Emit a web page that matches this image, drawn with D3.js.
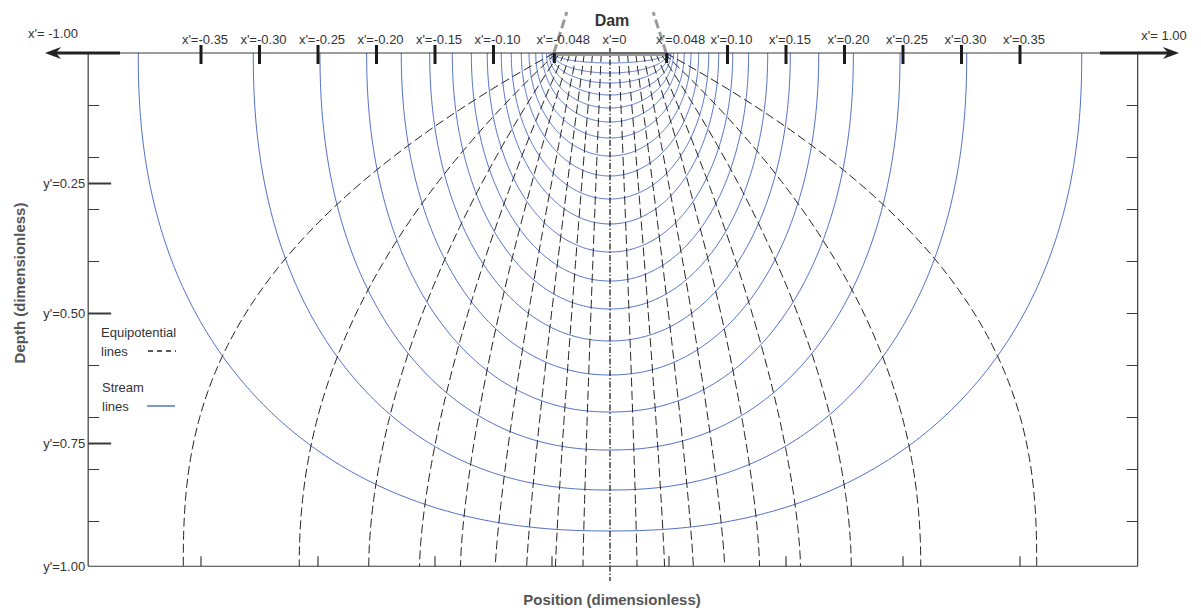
<!DOCTYPE html>
<html>
<head>
<meta charset="utf-8">
<script src="https://cdn.jsdelivr.net/npm/d3@7"></script>
<style>
  body { margin: 0; background: #fff; }
  svg { display: block; font-family: "Liberation Sans", Arial, sans-serif; }
</style>
</head>
<body>
<svg id="chart" width="1201" height="610"></svg>
<script>
// top axis ticks (x' position) and their labels
const topTicks = [-0.35, -0.30, -0.25, -0.20, -0.15, -0.10, -0.048, 0, 0.048, 0.10, 0.15, 0.20, 0.25, 0.30, 0.35];
const topTickLabels = ["x'=-0.35", "x'=-0.30", "x'=-0.25", "x'=-0.20", "x'=-0.15", "x'=-0.10", "x'=-0.048",
                       "x'=0", "x'=0.048", "x'=0.10", "x'=0.15", "x'=0.20", "x'=0.25", "x'=0.30", "x'=0.35"];
const bottomTicks = [-0.35, -0.25, -0.15, -0.05, 0.05, 0.15, 0.25, 0.35];

const aquiferBottom = 0.987;   // impermeable base (labelled y'=1.00)
const depthMajor = [0.25, 0.50, 0.75, aquiferBottom];
const depthMajorLabels = ["y'=0.25", "y'=0.50", "y'=0.75", "y'=1.00"];
const depthMinor = [0.1, 0.2, 0.3, 0.4, 0.5, 0.6, 0.7, 0.8, 0.9];

const damHalfWidth = 0.048;

// stream lines: half-width at the surface and depth below the dam centre
const streamHalfWidth = [0.0485, 0.0492, 0.0504, 0.0521, 0.0543, 0.0579, 0.0635, 0.0692, 0.0758, 0.0844,
                         0.0929, 0.1049, 0.1185, 0.1348, 0.1541, 0.1784, 0.2080, 0.2479, 0.3049, 0.4032];
const streamDepth     = [0.0192, 0.0385, 0.0577, 0.0808, 0.1058, 0.1327, 0.1635, 0.1981, 0.2365, 0.2808,
                         0.3288, 0.3827, 0.4385, 0.4923, 0.5538, 0.6192, 0.6904, 0.7635, 0.8404, 0.9192];

// equipotential lines (one side, mirrored): x' at the dam base, at mid depth, at the bottom
const equiTop    = [0.0075, 0.0149, 0.0219, 0.0284, 0.0341, 0.0390, 0.0430, 0.0458, 0.0476];
const equiMid    = [0.0162, 0.0325, 0.0496, 0.0692, 0.0940, 0.1205, 0.1590, 0.2154, 0.3094];
const equiBottom = [0.0231, 0.0466, 0.0712, 0.0980, 0.1278, 0.1628, 0.2062, 0.2656, 0.3647];

const svg = d3.select("#chart");
const x = d3.scaleLinear().domain([-0.5, 0.5]).range([25, 1195]);
const y = d3.scaleLinear().domain([0, 1]).range([53, 573]);

const frameL = -0.446, frameR = 0.451;
const INK = "#3a3a3a";
const BLUE = "#3d5fbf";

const line = d3.line().x(d => x(d[0])).y(d => y(d[1]));

// Stream lines (slightly boxy half-ellipses)
const streamPts = (a, b) => {
    const n = 2 + 0.3 * b * b;
    return d3.range(0, 361).map(i => {
        const t = i * Math.PI / 360;
        const c = Math.cos(t), s = Math.sin(t);
        return [Math.sign(c) * a * Math.pow(Math.abs(c), 2 / n), b * Math.pow(s, 2 / n)];
    });
};
svg.append("g").selectAll("path")
    .data(d3.zip(streamHalfWidth, streamDepth)).enter().append("path")
    .attr("d", d => line(streamPts(d[0], d[1])))
    .attr("fill", "none").attr("stroke", BLUE).attr("stroke-width", 0.9);

// Equipotential lines
const equiPts = (x0, xm, xb) => {
    const p = -Math.log2(1 - (xm - x0) / (xb - x0));
    return d3.range(0, 101).map(i => {
        const w = i / 100;
        return [x0 + (xb - x0) * (1 - Math.pow(1 - w, p)), w * aquiferBottom];
    });
};
const equi = [];
equiTop.forEach((t, i) => {
    [-1, 1].forEach(sg => equi.push(equiPts(sg * t, sg * equiMid[i], sg * equiBottom[i])));
});
svg.append("g").selectAll("path")
    .data(equi).enter().append("path")
    .attr("d", line)
    .attr("fill", "none").attr("stroke", "#222").attr("stroke-width", 1)
    .attr("stroke-dasharray", "9,4");

// centre line
svg.append("line")
    .attr("x1", x(0)).attr("x2", x(0)).attr("y1", 48).attr("y2", 581)
    .attr("stroke", "#222").attr("stroke-width", 1.3).attr("stroke-dasharray", "6,2,1.5,2");

// Frame: left, right, bottom
svg.append("line").attr("x1", x(frameL)).attr("x2", x(frameL)).attr("y1", y(0)).attr("y2", y(aquiferBottom))
    .attr("stroke", INK).attr("stroke-width", 1.2);
svg.append("line").attr("x1", x(frameR)).attr("x2", x(frameR)).attr("y1", y(0)).attr("y2", y(aquiferBottom))
    .attr("stroke", INK).attr("stroke-width", 1.2);

// bottom axis
svg.append("g").attr("transform", `translate(0,${y(aquiferBottom)})`)
    .call(d3.axisTop(x).tickValues(bottomTicks).tickSize(10).tickFormat(""))
    .call(g => g.select(".domain").remove())
    .call(g => g.selectAll("line").attr("stroke", INK).attr("stroke-width", 1.2));
svg.append("line").attr("x1", x(frameL)).attr("x2", x(frameR))
    .attr("y1", y(aquiferBottom)).attr("y2", y(aquiferBottom))
    .attr("stroke", INK).attr("stroke-width", 1.2);

// left axis: minor + major ticks, labels
svg.append("g").attr("transform", `translate(${x(frameL)},0)`)
    .call(d3.axisRight(y).tickValues(depthMinor).tickSize(11).tickFormat(""))
    .call(g => g.select(".domain").remove())
    .call(g => g.selectAll("line").attr("stroke", INK).attr("stroke-width", 1));
svg.append("g").attr("transform", `translate(${x(frameL)},0)`)
    .call(d3.axisRight(y).tickValues(depthMajor.slice(0, 3)).tickSize(23).tickFormat(""))
    .call(g => g.select(".domain").remove())
    .call(g => g.selectAll("line").attr("stroke", INK).attr("stroke-width", 2));
svg.append("g").attr("transform", `translate(${x(frameL) - 3},0)`)
    .call(d3.axisLeft(y).tickValues(depthMajor).tickSize(0).tickPadding(0)
        .tickFormat((d, i) => depthMajorLabels[i]))
    .call(g => g.select(".domain").remove())
    .call(g => g.selectAll("text").attr("fill", "#333").attr("font-size", 13));

// right axis minor ticks
svg.append("g").attr("transform", `translate(${x(frameR)},0)`)
    .call(d3.axisLeft(y).tickValues(depthMinor).tickSize(11).tickFormat(""))
    .call(g => g.select(".domain").remove())
    .call(g => g.selectAll("line").attr("stroke", INK).attr("stroke-width", 1));

// Dam
const dam = svg.append("g");
dam.append("line").attr("x1", x(-damHalfWidth)).attr("x2", x(damHalfWidth))
    .attr("y1", y(0) + 1).attr("y2", y(0) + 1)
    .attr("stroke", "#9a9a9a").attr("stroke-width", 4);
[-1, 1].forEach(sg => {
    dam.append("line")
        .attr("x1", x(sg * damHalfWidth)).attr("y1", y(0))
        .attr("x2", x(sg * damHalfWidth) - sg * 13).attr("y2", 12)
        .attr("stroke", "#9a9a9a").attr("stroke-width", 3).attr("stroke-dasharray", "9,4");
});
svg.append("text").attr("x", x(0) + 2).attr("y", 26).attr("text-anchor", "middle")
    .attr("font-size", 16).attr("font-weight", "bold").attr("fill", "#333").text("Dam");

// Top axis line with arrows
svg.append("line").attr("x1", 118).attr("x2", 1102).attr("y1", y(0)).attr("y2", y(0))
    .attr("stroke", INK).attr("stroke-width", 1.2);
svg.append("line").attr("x1", 52).attr("x2", 120).attr("y1", y(0)).attr("y2", y(0))
    .attr("stroke", "#222").attr("stroke-width", 3);
svg.append("line").attr("x1", 1100).attr("x2", 1170).attr("y1", y(0)).attr("y2", y(0))
    .attr("stroke", "#222").attr("stroke-width", 3);
const yA = y(0);
svg.append("path").attr("d", `M45,${yA} L61,${yA - 6} L56,${yA} L61,${yA + 6} Z`).attr("fill", "#222");
svg.append("path").attr("d", `M1179,${yA} L1163,${yA - 6} L1168,${yA} L1163,${yA + 6} Z`).attr("fill", "#222");
svg.append("text").attr("x", 53).attr("y", 38).attr("text-anchor", "middle")
    .attr("font-size", 13).attr("fill", "#333").text("x'= -1.00");
svg.append("text").attr("x", 1164).attr("y", 40).attr("text-anchor", "middle")
    .attr("font-size", 13).attr("fill", "#333").text("x'= 1.00");

// top axis ticks and labels
const labelShift = d => d === 0.048 ? 14 : (d === -0.048 ? 9 : 4);
svg.append("g").attr("transform", `translate(0,${y(0)})`)
    .call(d3.axisTop(x).tickValues(topTicks).tickSize(8).tickPadding(1)
        .tickFormat((d, i) => topTickLabels[i]))
    .call(g => g.select(".domain").remove())
    .call(g => g.selectAll(".tick line")
        .attr("stroke", "#1a1a1a").attr("stroke-width", 3)
        .attr("y1", d => Math.abs(d) === damHalfWidth ? 0 : -8)
        .attr("y2", d => Math.abs(d) === damHalfWidth ? 10 : 11)
        .attr("display", d => d === 0 ? "none" : null))
    .call(g => g.selectAll(".tick text")
        .attr("fill", "#333").attr("font-size", 13)
        .attr("dx", labelShift));

// Axis titles
svg.append("text").attr("x", 612).attr("y", 605).attr("text-anchor", "middle")
    .attr("font-size", 15).attr("font-weight", "bold").attr("fill", "#555")
    .text("Position (dimensionless)");
svg.append("text").attr("transform", "translate(25,283) rotate(-90)").attr("text-anchor", "middle")
    .attr("font-size", 15).attr("font-weight", "bold").attr("fill", "#555")
    .text("Depth (dimensionless)");

// Legend
const lg = svg.append("g").attr("font-size", 13).attr("fill", "#333");
lg.append("text").attr("x", 101).attr("y", 337).text("Equipotential");
lg.append("text").attr("x", 101).attr("y", 356).text("lines");
lg.append("line").attr("x1", 148).attr("x2", 176).attr("y1", 351).attr("y2", 351)
    .attr("stroke", "#222").attr("stroke-width", 1.3).attr("stroke-dasharray", "5,4");
lg.append("text").attr("x", 102).attr("y", 392).text("Stream");
lg.append("text").attr("x", 102).attr("y", 411).text("lines");
lg.append("line").attr("x1", 147).attr("x2", 175).attr("y1", 406).attr("y2", 406)
    .attr("stroke", BLUE).attr("stroke-width", 1.3);
</script>
</body>
</html>
